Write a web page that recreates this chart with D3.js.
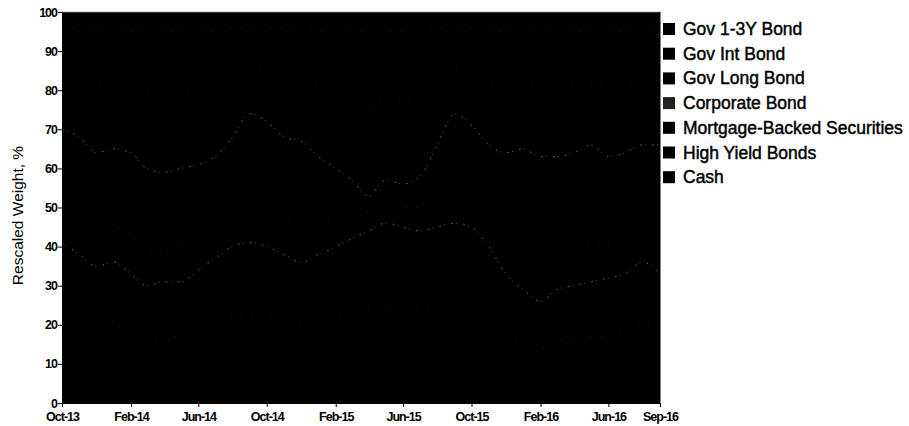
<!DOCTYPE html>
<html>
<head>
<meta charset="utf-8">
<script src="https://cdn.jsdelivr.net/npm/d3@7"></script>
<style>
  html, body { margin: 0; padding: 0; background: #fff; }
  svg { display: block; }
</style>
</head>
<body>
<svg id="chart" width="909" height="426"></svg>
<script>
const months = ["2013-10","2013-11","2013-12","2014-01","2014-02","2014-03","2014-04","2014-05","2014-06","2014-07","2014-08","2014-09",
  "2014-10","2014-11","2014-12","2015-01","2015-02","2015-03","2015-04","2015-05","2015-06","2015-07","2015-08","2015-09",
  "2015-10","2015-11","2015-12","2016-01","2016-02","2016-03","2016-04","2016-05","2016-06","2016-07","2016-08","2016-09"];
const seriesNames = ["Gov 1-3Y Bond","Gov Int Bond","Gov Long Bond","Corporate Bond","Mortgage-Backed Securities","High Yield Bonds","Cash"];
const gov13 = [22,21,19,20,18,16,17,17,19,20,22,22,22,21,20,21,22,23,24,25,25,24,25,25,25,22,18,16,14,16,16,17,17,18,20,18];
const govInt = [19,17,16,16,15,14,14,14,15,17,18,19,18,17,16,17,18,19,20,21,20,20,20,21,20,18,15,13,12,13,14,14,15,15,16,15];
const govLong = [9,10,8,9,10,9,8,9,9,8,9,11,10,9,10,8,7,6,5,4,5,6,8,9,9,10,11,12,11,10,11,10,9,10,11,10];
const corporate = [20,20,21,20,21,21,20,20,18,18,19,22,22,21,21,17,13,9,4,7,6,8,13,19,17,16,20,24,26,24,23,25,22,21,19,23];
const mbs = [14,15,17,16,17,19,20,19,18,17,15,12,13,15,16,18,19,21,23,21,21,20,16,12,14,16,17,16,18,18,17,16,18,17,16,16];
const highYield = [12,13,14,14,14,16,16,16,16,15,13,10,11,13,13,14,16,17,19,17,18,17,14,10,11,13,14,14,14,14,14,13,14,14,13,13];
const cash = [4,4,5,5,5,5,5,5,5,5,4,4,4,4,4,5,5,5,5,5,5,5,4,4,4,5,5,5,5,5,5,5,5,5,5,5];
const xTickLabels = ["Oct-13","Feb-14","Jun-14","Oct-14","Feb-15","Jun-15","Oct-15","Feb-16","Jun-16","Sep-16"];
const xTickDates = ["2013-10","2014-02","2014-06","2014-10","2015-02","2015-06","2015-10","2016-02","2016-06","2016-09"];
const yTicks = [0,10,20,30,40,50,60,70,80,90,100];
const yLabel = "Rescaled Weight, %";

const seriesValues = [gov13, govInt, govLong, corporate, mbs, highYield, cash];
const parse = d3.timeParse("%Y-%m");
const table = months.map((m, i) => {
  const row = { date: parse(m) };
  seriesNames.forEach((n, k) => row[n] = seriesValues[k][i]);
  return row;
});

const svg = d3.select("#chart");
const margin = { left: 62, right: 249, top: 12, bottom: 23 };
const W = 909, H = 426;
const x = d3.scaleTime().domain(d3.extent(table, d => d.date)).range([margin.left, W - margin.right]);
const y = d3.scaleLinear().domain([0, 100]).range([H - margin.bottom, margin.top]);

const stack = d3.stack().keys(seriesNames);
const layers = stack(table);
const area = d3.area()
  .x(d => x(d.data.date))
  .y0(d => y(d[0]))
  .y1(d => y(d[1]))
  .curve(d3.curveMonotoneX);
const line = d3.line()
  .x(d => x(d.data.date))
  .y(d => y(d[1]))
  .curve(d3.curveMonotoneX);

// black backing so antialiased seams between stacked areas stay dark
svg.append("rect").attr("x", margin.left).attr("y", margin.top)
  .attr("width", W - margin.right - margin.left).attr("height", H - margin.bottom - margin.top)
  .attr("fill", "#000");

svg.append("g").selectAll("path").data(layers).join("path")
  .attr("d", area)
  .attr("fill", "#000");

// faint boundary traces
svg.append("g").selectAll("path").data(layers.slice(0, 6)).join("path")
  .attr("d", line)
  .attr("fill", "none")
  .attr("stroke", "#ddd")
  .attr("stroke-opacity", (d, i) => (i === 1 || i === 3) ? 0.55 : 0.15)
  .attr("stroke-width", 0.7)
  .attr("stroke-dasharray", (d, i) => (i === 1 || i === 3) ? "2,3,1,6" : "1,9");

// light top edge
svg.append("line").attr("x1", margin.left).attr("x2", W - margin.right)
  .attr("y1", margin.top).attr("y2", margin.top).attr("stroke", "#999").attr("stroke-width", 0.8);

const font = "'Liberation Sans', Arial, sans-serif";

// axes
const yAxis = d3.axisLeft(y).tickValues(yTicks).tickSize(4).tickPadding(1);
const gy = svg.append("g").attr("transform", `translate(${margin.left},0)`).call(yAxis);
gy.selectAll("text").attr("font-family", font).attr("font-size", 12.5).attr("font-weight", "bold")
  .attr("letter-spacing", "-1px").attr("fill", "#000");
gy.selectAll("line,path").attr("stroke", "#000");

const xAxis = d3.axisBottom(x).tickValues(xTickDates.map(parse))
  .tickFormat((d, i) => xTickLabels[i]).tickSize(4).tickPadding(5);
const gx = svg.append("g").attr("transform", `translate(0,${H - margin.bottom})`).call(xAxis);
gx.selectAll("text").attr("font-family", font).attr("font-size", 12.5).attr("font-weight", "bold")
  .attr("letter-spacing", "-1px").attr("fill", "#000");
gx.selectAll("line,path").attr("stroke", "#000");

// right border of plot
svg.append("line").attr("x1", W - margin.right).attr("x2", W - margin.right)
  .attr("y1", margin.top).attr("y2", H - margin.bottom).attr("stroke", "#000");

// y label
svg.append("text")
  .attr("transform", `translate(23,${(margin.top + H - margin.bottom) / 2 + 8}) rotate(-90)`)
  .attr("text-anchor", "middle")
  .attr("font-family", font).attr("font-size", 15.5)
  .attr("fill", "#000")
  .text(yLabel);

// legend
const legend = svg.append("g").attr("transform", "translate(663,22)");
const lg = legend.selectAll("g").data(seriesNames).join("g")
  .attr("transform", (d, i) => `translate(0,${i * 24.7})`);
lg.append("rect").attr("x", 0).attr("y", 1).attr("width", 12).attr("height", 12)
  .attr("fill", (d, i) => i === 3 ? "#222" : "#000");
lg.append("text").attr("x", 20).attr("y", 13)
  .attr("font-family", font).attr("font-size", 17.5)
  .attr("letter-spacing", "0px")
  .attr("fill", "#000").attr("stroke", "#000").attr("stroke-width", 0.45)
  .text(d => d);
</script>
</body>
</html>
